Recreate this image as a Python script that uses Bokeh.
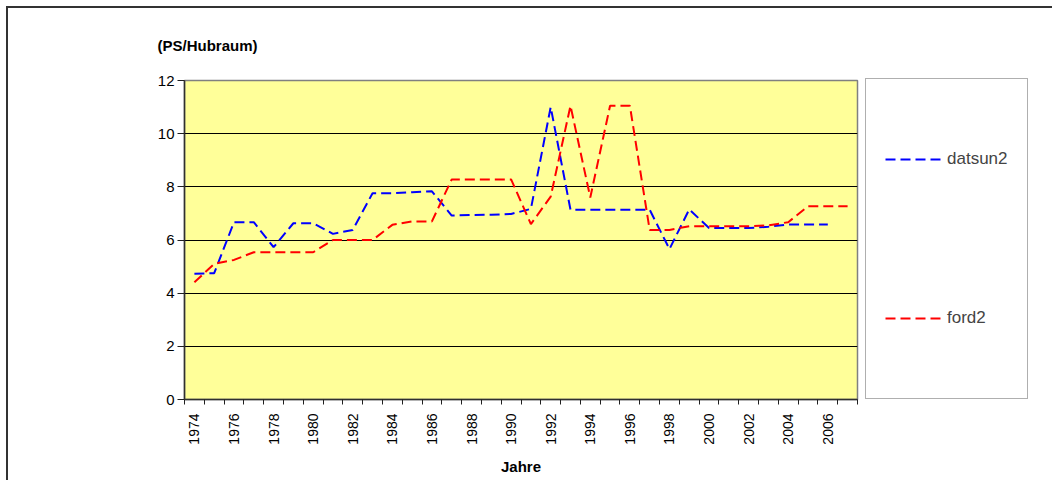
import math

from bokeh.plotting import figure
from bokeh.models import FixedTicker, Legend, LegendItem, Title
from bokeh.embed import file_html
from bokeh.resources import INLINE

# Horsepower per displacement, by year
years_datsun = list(range(1974, 2007))
datsun2 = [4.73, 4.75, 6.67, 6.67, 5.73, 6.63, 6.63, 6.23, 6.38, 7.76, 7.76,
           7.80, 7.83, 6.92, 6.94, 6.95, 6.98, 7.17, 11.0, 7.14, 7.14, 7.14,
           7.14, 7.14, 5.66, 7.15, 6.45, 6.45, 6.45, 6.50, 6.58, 6.58, 6.58]

years_ford = list(range(1974, 2008))
ford2 = [4.41, 5.10, 5.25, 5.54, 5.54, 5.54, 5.54, 6.00, 6.00, 6.00, 6.57,
         6.70, 6.70, 8.28, 8.28, 8.28, 8.28, 6.60, 7.63, 11.05, 7.60, 11.05,
         11.05, 6.38, 6.38, 6.52, 6.52, 6.52, 6.52, 6.55, 6.67, 7.27, 7.27, 7.27]

y_ticks = [0, 2, 4, 6, 8, 10, 12]
x_labels = list(range(1974, 2007, 2))

FONT = "Liberation Sans"
OFF = 8  # page offset of the chart box (margin + border)

p = figure(frame_width=673, frame_height=319, output_backend="svg",
           toolbar_location=None,
           x_range=(1973.5, 2007.5), y_range=(0, 12),
           min_border_left=184 - OFF, min_border_right=195,
           min_border_top=80 - OFF, min_border_bottom=81)
p.margin = (6, 0, 0, 6)
p.styles = {"border-left": "2px solid #333333",
            "border-top": "2px solid #333333"}

p.background_fill_color = "#FFFF99"
p.border_fill_color = "white"
p.outline_line_color = "#808080"
p.outline_line_width = 1.5

# x axis: labels on every other year, tick marks between years
p.xaxis.ticker = FixedTicker(ticks=x_labels,
                             minor_ticks=[y - 0.5 for y in years_ford] + [2007.5])
p.xaxis.major_tick_out = 0
p.xaxis.major_tick_in = 0
p.xaxis.minor_tick_out = 5
p.xaxis.minor_tick_in = 0
p.xaxis.minor_tick_line_color = "#202020"
p.xaxis.major_label_orientation = math.pi / 2
p.xaxis.major_label_standoff = 9
p.xaxis.major_label_text_font = FONT
p.xaxis.major_label_text_font_size = "14px"
p.xaxis.major_label_text_color = "black"
p.xaxis.axis_label = "Jahre"
p.xaxis.axis_label_text_font = FONT
p.xaxis.axis_label_text_font_size = "15px"
p.xaxis.axis_label_text_font_style = "bold"
p.xaxis.axis_label_text_color = "black"
p.xaxis.axis_label_standoff = 10
p.xaxis.axis_line_color = "#303030"
p.xaxis.axis_line_width = 1.5

p.yaxis.ticker = FixedTicker(ticks=y_ticks)
p.yaxis.minor_tick_line_color = None
p.yaxis.major_tick_out = 7
p.yaxis.major_tick_in = 0
p.yaxis.major_tick_line_color = "#202020"
p.yaxis.major_label_standoff = 3
p.yaxis.major_label_text_font = FONT
p.yaxis.major_label_text_font_size = "15px"
p.yaxis.major_label_text_color = "black"
p.yaxis.axis_line_color = "#303030"
p.yaxis.axis_line_width = 1.5

p.xgrid.grid_line_color = None
p.ygrid.ticker = FixedTicker(ticks=[2, 4, 6, 8, 10])
p.ygrid.grid_line_color = "black"
p.ygrid.grid_line_width = 1

title = Title(text="(PS/Hubraum)", align="left", offset=-27,
              text_font=FONT, text_font_size="15px", text_font_style="bold",
              text_color="black", standoff=53)
p.add_layout(title, "above")

r_d = p.line(years_datsun, datsun2, line_color="#0000FF", line_width=2,
             line_dash="10 5")
r_f = p.line(years_ford, ford2, line_color="#FF0000", line_width=2,
             line_dash="10 5")

legend = Legend(items=[LegendItem(label="datsun2", renderers=[r_d]),
                       LegendItem(label="ford2", renderers=[r_f])],
                location=(8, 0), margin=0, padding=19, spacing=37,
                glyph_width=57, glyph_height=122, label_height=122,
                label_width=61, label_standoff=5,
                label_text_font=FONT, label_text_font_size="17px",
                border_line_color="#606060", border_line_width=1,
                background_fill_color="white", background_fill_alpha=1)
p.add_layout(legend, "right")

open("out.html", "w").write(file_html(p, INLINE))
